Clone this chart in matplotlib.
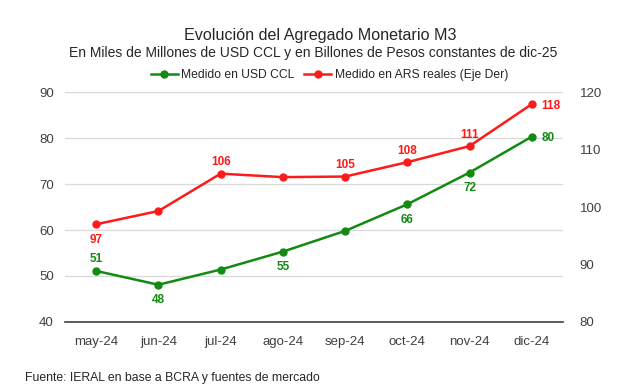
import matplotlib.pyplot as plt

meses = ["may-24", "jun-24", "jul-24", "ago-24", "sep-24", "oct-24", "nov-24", "dic-24"]
usd_ccl = [51.1, 48.1, 51.4, 55.3, 59.8, 65.6, 72.5, 80.3]
ars_reales = [97.0, 99.3, 105.8, 105.2, 105.3, 107.8, 110.6, 117.9]

# etiquetas visibles (None = sin etiqueta) y su posicion
etq_usd = ["51", "48", None, "55", None, "66", "72", "80"]
pos_usd = ["arriba", "abajo", None, "abajo", None, "abajo", "abajo", "der"]
etq_ars = ["97", None, "106", None, "105", "108", "111", "118"]
pos_ars = ["abajo", None, "arriba", None, "arriba", "arriba", "arriba", "der"]

plt.rcParams['font.family'] = ['Liberation Sans', 'DejaVu Sans']

verde = "#138a13"
rojo = "#ff1a1a"

fig = plt.figure(figsize=(6.4, 3.9), dpi=100)
ax = fig.add_axes([0.1016, 0.1744, 0.778, 0.5896])
ax2 = ax.twinx()

x = list(range(len(meses)))
l1, = ax.plot(x, usd_ccl, color=verde, lw=1.8, marker="o", ms=5, label="Medido en USD CCL")
l2, = ax2.plot(x, ars_reales, color=rojo, lw=1.8, marker="o", ms=5, label="Medido en ARS reales (Eje Der)")

ax.set_xlim(-0.5, 7.5)
ax.set_ylim(40, 90)
ax2.set_ylim(80, 120)
ax.set_yticks(range(40, 91, 10))
ax2.set_yticks(range(80, 121, 10))
ax.set_xticks(x)
ax.set_xticklabels(meses)

ax.grid(axis="y", color="#d9d9d9", lw=0.9)
ax.set_axisbelow(True)
for a in (ax, ax2):
    for s in ["top", "left", "right", "bottom"]:
        a.spines[s].set_visible(False)
    a.tick_params(length=0, labelsize=9.5, colors="#404040")
ax.spines["bottom"].set_visible(True)
ax.spines["bottom"].set_color("#404040")
ax.spines["bottom"].set_linewidth(1.2)
ax.tick_params(axis="x", pad=10)
ax.tick_params(axis="y", pad=8)
ax2.tick_params(axis="y", pad=12)

def etiquetar(a, vals, etqs, poss, color):
    for i, (v, t, p) in enumerate(zip(vals, etqs, poss)):
        if t is None:
            continue
        if p == "arriba":
            a.annotate(t, (i, v), xytext=(0, 4), textcoords="offset points",
                       ha="center", va="bottom", color=color, fontsize=8.5, fontweight="bold")
        elif p == "abajo":
            a.annotate(t, (i, v), xytext=(0, -7), textcoords="offset points",
                       ha="center", va="top", color=color, fontsize=8.5, fontweight="bold")
        else:
            a.annotate(t, (i, v), xytext=(7, -1), textcoords="offset points",
                       ha="left", va="center", color=color, fontsize=8.5, fontweight="bold")

etiquetar(ax, usd_ccl, etq_usd, pos_usd, verde)
etiquetar(ax2, ars_reales, etq_ars, pos_ars, rojo)

fig.text(0.5, 0.91, "Evolución del Agregado Monetario M3", ha="center", va="center",
         fontsize=11.6, color="#262626")
fig.text(0.49, 0.865, "En Miles de Millones de USD CCL y en Billones de Pesos constantes de dic-25",
         ha="center", va="center", fontsize=10, color="#262626")
fig.legend(handles=[l1, l2], loc="center", bbox_to_anchor=(0.515, 0.808), ncol=2,
           frameon=False, fontsize=8.7, handlelength=2.2, columnspacing=0.8,
           handletextpad=0.3, labelcolor="#262626")
fig.text(0.039, 0.03, "Fuente: IERAL en base a BCRA y fuentes de mercado", ha="left",
         va="center", fontsize=8.8, color="#262626")

fig.savefig("out.png", dpi=100)
